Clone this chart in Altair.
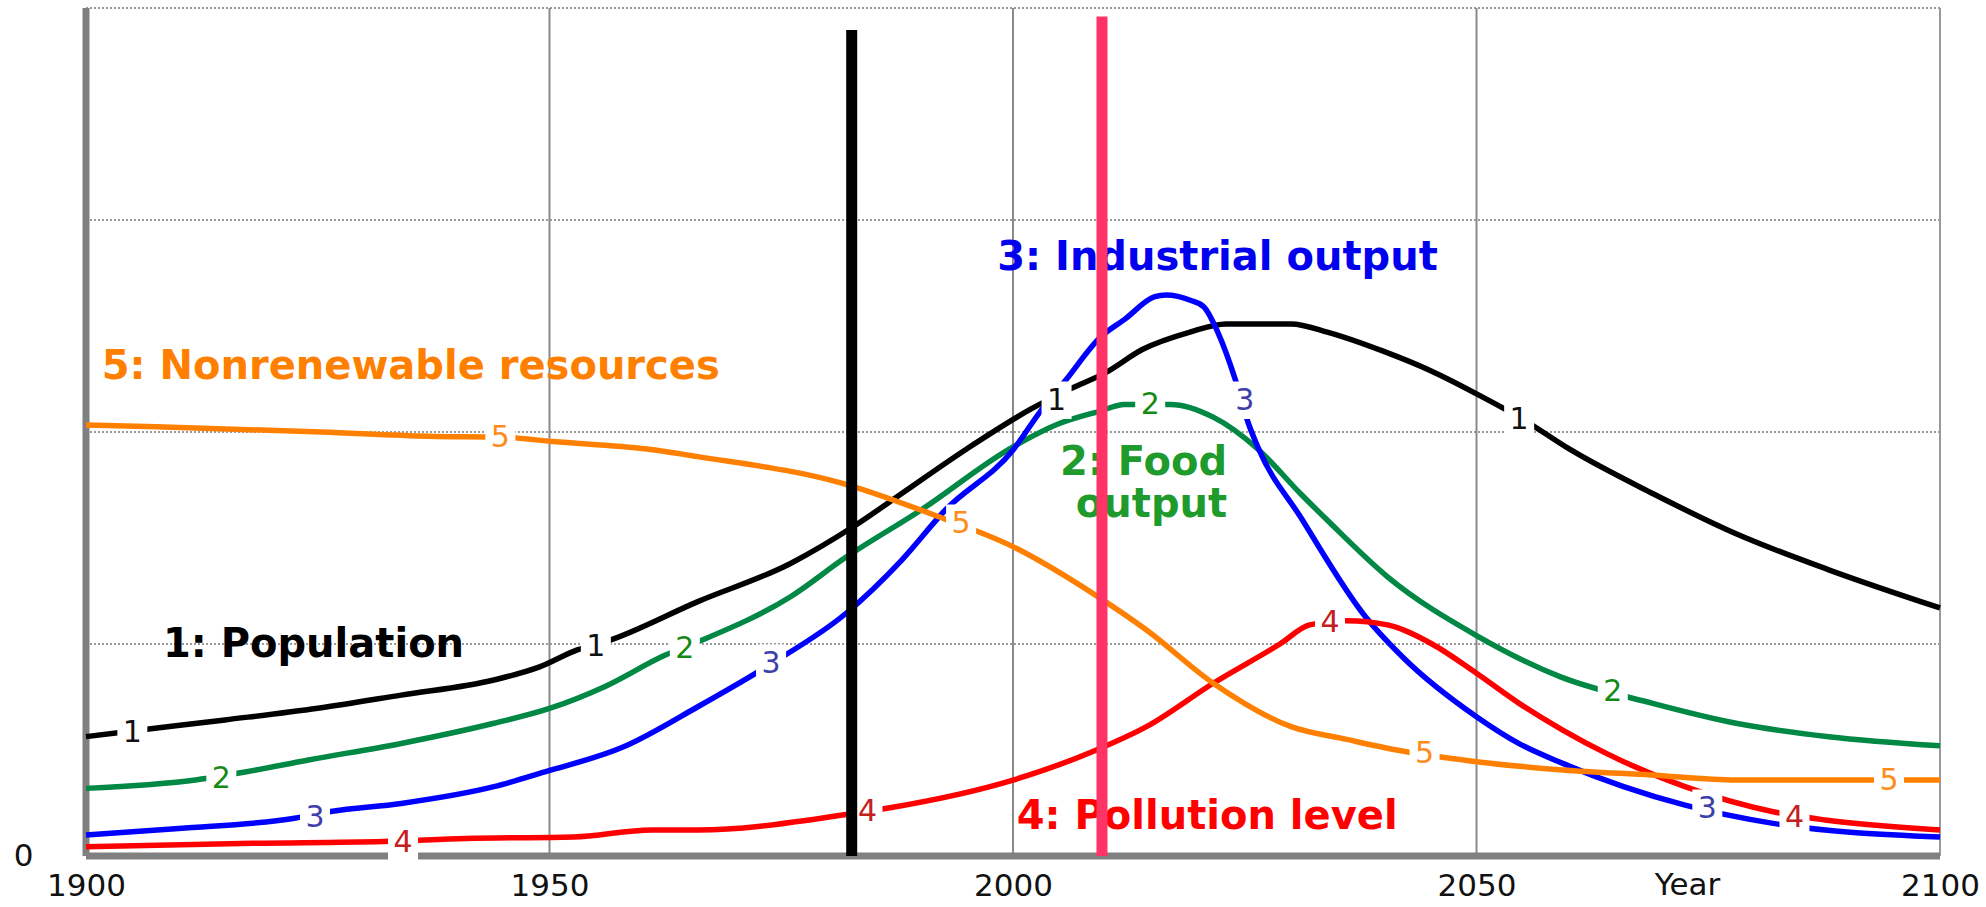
import altair as alt
import pandas as pd

# ---------------- data ----------------
SERIES = ["Population", "Food output", "Industrial output", "Pollution level", "Nonrenewable resources"]
LINE_COLORS = ["#000000", "#008844", "#0000FF", "#FF0000", "#FF8000"]

POP_YEARS = [1900, 1905, 1915, 1925, 1934, 1944, 1949, 1953, 1956, 1966, 1976, 1983, 1988, 1995,
             2002, 2006, 2010, 2014, 2019, 2023, 2030, 2034, 2040, 2045, 2050, 2055, 2060, 2069,
             2078, 2088, 2100]
POP = [0.563, 0.59, 0.642, 0.697, 0.759, 0.83, 0.893, 0.972, 1.01, 1.20, 1.38, 1.56, 1.71, 1.92,
       2.11, 2.20, 2.28, 2.39, 2.47, 2.51, 2.51, 2.47, 2.38, 2.29, 2.18, 2.06, 1.92, 1.71,
       1.52, 1.35, 1.17]

FOOD_YEARS = [1900, 1912, 1917, 1924, 1934, 1944, 1950, 1956, 1962.5, 1966, 1976, 1982, 1990, 2000,
              2005, 2009.5, 2012, 2017, 2021.6, 2026.4, 2031, 2034, 2040.4, 2050, 2059, 2069, 2078,
              2088, 2100]
FOOD = [0.319, 0.36, 0.395, 0.453, 0.531, 0.626, 0.696, 0.80, 0.948, 1.01, 1.223, 1.41, 1.63, 1.93,
        2.04, 2.10, 2.13, 2.13, 2.07, 1.92, 1.71, 1.58, 1.317, 1.04, 0.846, 0.72, 0.626,
        0.563, 0.52]

IND_YEARS = [1900, 1910, 1922.5, 1926.4, 1934, 1944, 1949.5, 1958, 1966, 1974, 1982, 1988, 1992.7,
             2000, 2003, 2005.7, 2009.5, 2012, 2015.3, 2016.5, 2019.2, 2020.6, 2022.1, 2024,
             2025.4, 2026.5, 2031, 2038, 2042, 2050, 2054.6, 2059.3, 2072.5, 2082, 2100]
IND = [0.099, 0.13, 0.178, 0.21, 0.248, 0.327, 0.397, 0.515, 0.704, 0.909, 1.145, 1.396, 1.632,
       1.915, 2.10, 2.245, 2.45, 2.53, 2.638, 2.646, 2.62, 2.59, 2.47, 2.245,
       2.04, 1.92, 1.60, 1.13, 0.94, 0.657, 0.53, 0.437, 0.24, 0.154, 0.09]

POL_YEARS = [1900, 1918, 1932, 1941, 1952.6, 1961, 1966, 1981.6, 1986.4, 2000, 2009, 2014.4, 2021.6,
             2028.8, 2032, 2036, 2040.4, 2045.2, 2050, 2054.6, 2059.3, 2064, 2072.5, 2082, 2087.6, 2100]
POL = [0.044, 0.06, 0.068, 0.083, 0.09, 0.123, 0.123, 0.193, 0.225, 0.358, 0.5, 0.61, 0.815,
       1.0, 1.09, 1.11, 1.09, 1.0, 0.862, 0.72, 0.594, 0.484, 0.327, 0.209, 0.17, 0.123]

RES_YEARS = [1900, 1907.6, 1925.4, 1937, 1945, 1950.4, 1960.5, 1966, 1981.6, 1992, 2000, 2008.6,
             2014.4, 2021.6, 2030, 2036, 2042, 2050, 2059.3, 2068.8, 2078, 2100]
RES = [2.033, 2.025, 2.00, 1.98, 1.975, 1.955, 1.92, 1.884, 1.758, 1.60, 1.459, 1.239,
       1.066, 0.815, 0.61, 0.55, 0.495, 0.445, 0.406, 0.382, 0.358, 0.358]

# small inline number labels on the curves
DIGIT_TEXT = ["1", "1", "1", "1", "2", "2", "2", "2", "3", "3", "3", "3",
              "4", "4", "4", "4", "5", "5", "5", "5"]
DIGIT_YEARS = [1905, 1955, 2004.7, 2054.6,
               1914.6, 1964.6, 2014.8, 2064.7,
               1924.7, 1973.9, 2025.0, 2074.9,
               1934.2, 1984.3, 2034.2, 2084.3,
               1944.7, 1994.4, 2044.4, 2094.5]
DIGIT_VALUES = [0.585, 0.99, 2.15, 2.06,
                0.367, 0.98, 2.13, 0.78,
                0.185, 0.909, 2.15, 0.225,
                0.067, 0.21, 1.105, 0.185,
                1.978, 1.57, 0.485, 0.36]
DIGIT_KEYS = ["1", "2", "3", "4", "5"]
DIGIT_COLORS = ["#111111", "#148A14", "#3F3FAA", "#C42020", "#FF8C1A"]

# big series titles (left aligned)
BIG_TEXT = ["5: Nonrenewable resources", "1: Population", "3: Industrial output",
            "4: Pollution level"]
BIG_KEY = ["5", "1", "3", "4"]
BIG_YEARS = [1901.7, 1908.3, 1998.3, 2000.4]
BIG_VALUES = [2.307, 0.995, 2.82, 0.184]
BIG_COLORS = ["#000000", "#1E9B2C", "#0000EE", "#FF0000", "#FF8000"]

# two-line food title (right aligned)
FOOD_TITLE = ["2: Food", "output"]
FOOD_TITLE_YEAR = 2023.1
FOOD_TITLE_VALUE = 1.795

# vertical marker bars
BAR_YEARS = [1982.6, 2009.6]
BAR_TOPS = [3.896, 3.96]
BAR_COLORS = ["#000000", "#FF3366"]

GRID_VALUES = [1, 2, 3, 4]
GRID_YEARS = [1950, 2000, 2050]
X_TICKS = [1900, 1950, 2000, 2050, 2100]

# ---------------- chart ----------------
W, H = 1854, 848
x_scale = alt.Scale(domain=[1900, 2100], nice=False, zero=False)
y_scale = alt.Scale(domain=[0, 4], nice=False, zero=False)
FONT = "DejaVu Sans"

frames = []
for name, yrs, vals in [("Population", POP_YEARS, POP), ("Food output", FOOD_YEARS, FOOD),
                        ("Industrial output", IND_YEARS, IND), ("Pollution level", POL_YEARS, POL),
                        ("Nonrenewable resources", RES_YEARS, RES)]:
    frames.append(pd.DataFrame({"series": name, "year": yrs, "value": vals}))
line_df = pd.concat(frames, ignore_index=True)

x_axis = alt.Axis(values=X_TICKS, format="d", labelFont=FONT, labelFontSize=31, labelColor="#111",
                  ticks=False, domain=False, grid=False, labelPadding=30,
                  labelFlush=False, labelOverlap=False, labelBaseline="middle",
                  title="Year", titleFont=FONT, titleFontSize=31, titleFontWeight="normal",
                  titleColor="#111", titleX=1601, titleY=29, titleBaseline="middle",
                  titleAlign="center")
y_axis = alt.Axis(values=[0], labelFont=FONT, labelFontSize=31, labelColor="#111", ticks=False,
                  domain=False, grid=False, labelPadding=53, title=None,
                  labelBaseline="middle", labelFlush=False)

hgrid = alt.Chart(pd.DataFrame({"v": GRID_VALUES})).mark_rule(
    color="#9a9a9a", strokeWidth=2, strokeDash=[2, 2]).encode(
    y=alt.Y("v:Q", scale=y_scale, axis=None))

vgrid = alt.Chart(pd.DataFrame({"yr": GRID_YEARS})).mark_rule(
    color="#8a8a8a", strokeWidth=2).encode(
    x=alt.X("yr:Q", scale=x_scale, axis=None))

right_border = alt.Chart(pd.DataFrame({"yr": [2100]})).mark_rule(
    color="#9a9a9a", strokeWidth=2).encode(
    x=alt.X("yr:Q", scale=x_scale, axis=None))

left_axis = alt.Chart(pd.DataFrame({"yr": [1900]})).mark_rule(
    color="#808080", strokeWidth=7).encode(
    x=alt.X("yr:Q", scale=x_scale, axis=None))

bottom_axis = alt.Chart(pd.DataFrame({"v": [0]})).mark_rule(
    color="#808080", strokeWidth=7).encode(
    y=alt.Y("v:Q", scale=y_scale, axis=None))

lines = alt.Chart(line_df).mark_line(strokeWidth=5.5, interpolate="monotone").encode(
    x=alt.X("year:Q", scale=x_scale, axis=x_axis),
    y=alt.Y("value:Q", scale=y_scale, axis=y_axis),
    color=alt.Color("series:N", scale=alt.Scale(domain=SERIES, range=LINE_COLORS), legend=None),
)

digit_df = pd.DataFrame({"t": DIGIT_TEXT, "year": DIGIT_YEARS, "value": DIGIT_VALUES})

boxes = alt.Chart(digit_df).mark_point(
    shape="M-1,-1.25H1V1.25H-1Z", size=900, filled=True, color="white", opacity=1,
    strokeWidth=0).encode(
    x=alt.X("year:Q", scale=x_scale, axis=None),
    y=alt.Y("value:Q", scale=y_scale, axis=None))

digits = alt.Chart(digit_df).mark_text(
    font=FONT, fontSize=30, align="center", baseline="middle", dy=1).encode(
    x=alt.X("year:Q", scale=x_scale, axis=None),
    y=alt.Y("value:Q", scale=y_scale, axis=None),
    text="t:N",
    color=alt.Color("t:N", scale=alt.Scale(domain=DIGIT_KEYS, range=DIGIT_COLORS), legend=None))

big_df = pd.DataFrame({"t": BIG_TEXT, "k": BIG_KEY, "year": BIG_YEARS, "value": BIG_VALUES})
big = alt.Chart(big_df).mark_text(
    font=FONT, fontSize=40, fontWeight="bold", align="left", baseline="middle").encode(
    x=alt.X("year:Q", scale=x_scale, axis=None),
    y=alt.Y("value:Q", scale=y_scale, axis=None),
    text="t:N",
    color=alt.Color("k:N", scale=alt.Scale(domain=DIGIT_KEYS, range=BIG_COLORS), legend=None))

food_df = pd.DataFrame({"t": ["\n".join(FOOD_TITLE)], "year": [FOOD_TITLE_YEAR],
                        "value": [FOOD_TITLE_VALUE]})
food_title = alt.Chart(food_df).mark_text(
    font=FONT, fontSize=40, fontWeight="bold", align="right", baseline="alphabetic",
    lineBreak="\n", lineHeight=42, color="#1E9B2C").encode(
    x=alt.X("year:Q", scale=x_scale, axis=None),
    y=alt.Y("value:Q", scale=y_scale, axis=None),
    text="t:N")

bar_layers = []
for yr, top, col in zip(BAR_YEARS, BAR_TOPS, BAR_COLORS):
    bar_layers.append(
        alt.Chart(pd.DataFrame({"year": [yr], "top": [top], "base": [0]})).mark_rule(
            color=col, strokeWidth=11).encode(
            x=alt.X("year:Q", scale=x_scale, axis=None),
            y=alt.Y("top:Q", scale=y_scale, axis=None),
            y2="base:Q"))

chart = alt.layer(
    hgrid, vgrid, right_border, left_axis, bottom_axis, lines, boxes, digits, big, food_title,
    *bar_layers
).resolve_scale(color="independent").resolve_axis(x="independent", y="independent").properties(
    width=W, height=H,
    autosize=alt.AutoSizeParams(type="none"),
    padding={"left": 86, "top": 8, "right": 46, "bottom": 51},
    background="white",
).configure_view(strokeWidth=0)

chart.save("out.html", embed_options={"renderer": "svg", "actions": False})
